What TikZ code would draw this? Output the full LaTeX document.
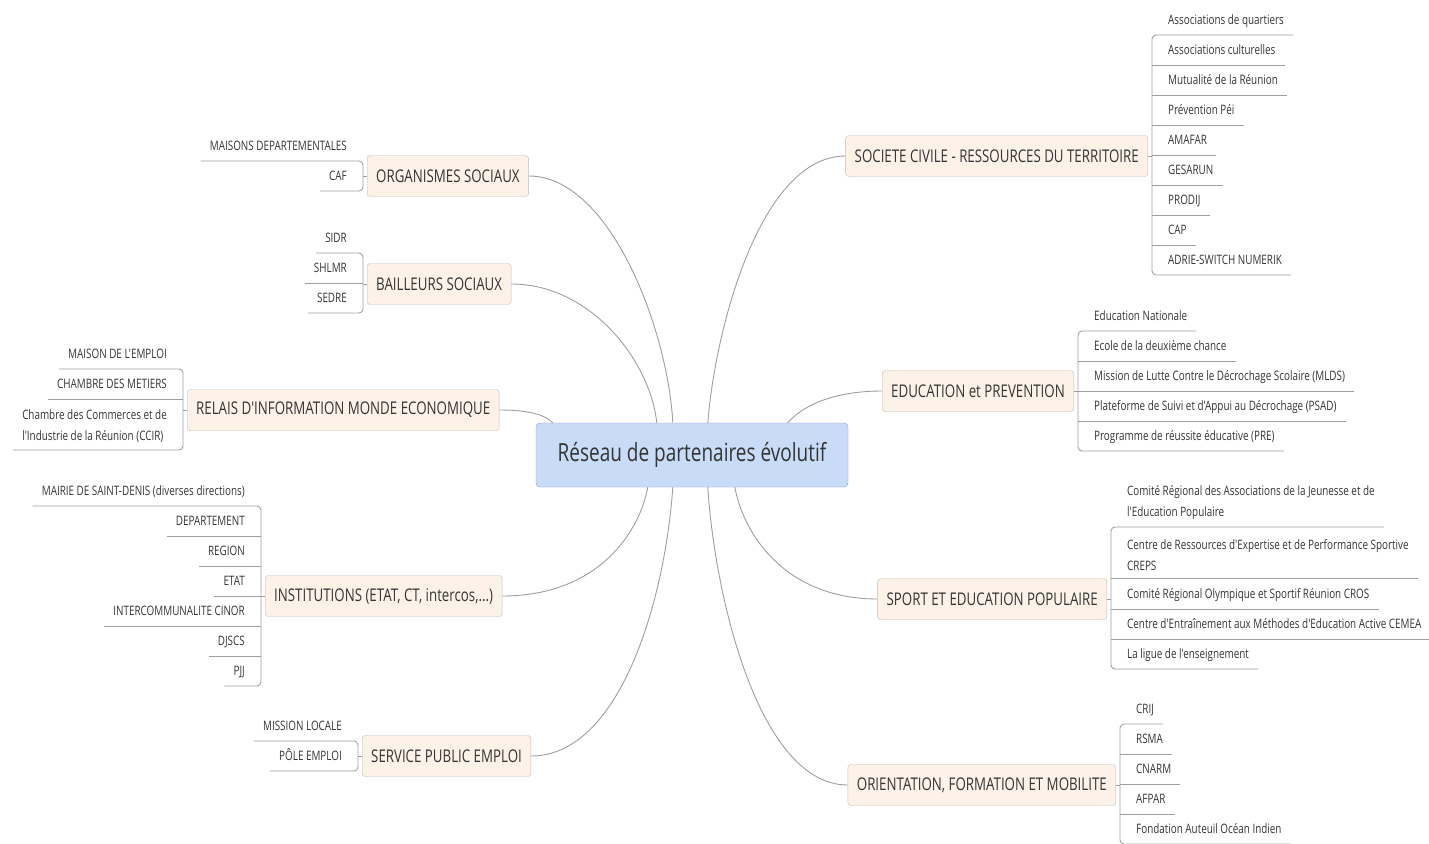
\documentclass[tikz,border=0pt]{standalone}
\usepackage{fontspec}
\setmainfont{Open Sans}[FakeStretch=0.76, Ligatures=TeXOff]
\usepackage{tikz}
\usetikzlibrary{positioning}
\definecolor{hubfill}{RGB}{200,220,248}
\definecolor{hubline}{RGB}{128,158,204}
\definecolor{topicfill}{RGB}{252,242,232}
\definecolor{topicline}{RGB}{196,188,178}
\definecolor{wire}{RGB}{158,158,158}
\definecolor{ink}{RGB}{52,52,52}

\begin{document}
\begin{tikzpicture}[x=1pt,y=-1pt]
\tikzstyle{hub}=[rectangle, rounded corners=4pt, draw=hubline, fill=hubfill, text=ink, minimum width=312pt, minimum height=64pt, font=\fontsize{25}{28}\selectfont]
\tikzstyle{topic}=[rectangle, rounded corners=3pt, draw=topicline, fill=topicfill, text=ink, minimum height=41pt, inner xsep=9pt, font=\fontsize{17.5}{20}\selectfont]
\tikzstyle{leafbase}=[text=ink, inner xsep=9pt, inner ysep=7pt, align=left, font=\fontsize{13}{21}\selectfont]
\tikzstyle{leaf}=[leafbase, text height=9pt, text depth=3pt]
\tikzstyle{link}=[draw=wire, line width=0.9pt]
\tikzstyle{twig}=[draw=wire, line width=0.9pt]
\useasboundingbox (0,0) rectangle (1429,843);
\clip (0,0) rectangle (1429,843);

% centre
\node[hub] (Hub) at (692,455) {Réseau de partenaires évolutif};

% branches, left
\node[topic, anchor=west] (Organismes) at (367,176) {ORGANISMES SOCIAUX};
\node[topic, anchor=west] (Bailleurs) at (367,284) {BAILLEURS SOCIAUX};
\node[topic, anchor=west] (Relais) at (187,410) {RELAIS D'INFORMATION MONDE ECONOMIQUE};
\node[topic, anchor=west] (Institutions) at (265,596) {INSTITUTIONS (ETAT, CT, intercos,...)};
\node[topic, anchor=west] (ServicePublic) at (362,756) {SERVICE PUBLIC EMPLOI};
% branches, right
\node[topic, anchor=east] (SocieteCivile) at (1148,156) {SOCIETE CIVILE - RESSOURCES DU TERRITOIRE};
\node[topic, anchor=east] (Education) at (1074,391) {EDUCATION et PREVENTION};
\node[topic, anchor=east] (Sport) at (1107,599) {SPORT ET EDUCATION POPULAIRE};
\node[topic, anchor=east] (Orientation) at (1116,785) {ORIENTATION, FORMATION ET MOBILITE};

\draw[link] ([xshift=17pt]Hub.north west) .. controls (545,415) and (530,410) .. (Relais.east);
\draw[link] ([xshift=121pt]Hub.north west) .. controls (650,360) and (590,284) .. (Bailleurs.east);
\draw[link] ([xshift=137pt]Hub.north west) .. controls (668,330) and (610,176) .. (Organismes.east);
\draw[link] ([xshift=172pt]Hub.north west) .. controls (715,330) and (760,156) .. (SocieteCivile.west);
\draw[link] ([xshift=252pt]Hub.north west) .. controls (800,408) and (830,391) .. (Education.west);
\draw[link] ([xshift=112pt]Hub.south west) .. controls (640,530) and (600,596) .. (Institutions.east);
\draw[link] ([xshift=137pt]Hub.south west) .. controls (665,600) and (620,756) .. (ServicePublic.east);
\draw[link] ([xshift=172pt]Hub.south west) .. controls (715,600) and (760,785) .. (Orientation.west);
\draw[link] ([xshift=199pt]Hub.south west) .. controls (745,540) and (790,599) .. (Sport.west);

% leaves, left
\coordinate (OrgB) at (363,176);
\foreach \t [count=\i] in {MAISONS DEPARTEMENTALES, CAF}
  \node[leaf, anchor=south east] (Org\i) at (356,131+30*\i) {\t};
\draw[twig] (Organismes.west) -- (OrgB);
\draw[twig, rounded corners=4pt] (Org1.south west) -- (Org1.south west -| OrgB) -- (Org2.south west -| OrgB) -- (Org2.south west);

\coordinate (BailB) at (363,284);
\foreach \t [count=\i] in {SIDR, SHLMR, SEDRE}
  \node[leaf, anchor=south east] (Bail\i) at (356,223+30*\i) {\t};
\draw[twig] (Bailleurs.west) -- (BailB);
\draw[twig] (Bail2.south west) -- (Bail2.south west -| BailB);
\draw[twig, rounded corners=4pt] (Bail1.south west) -- (Bail1.south west -| BailB) -- (Bail3.south west -| BailB) -- (Bail3.south west);

\coordinate (RelaisB) at (183,410);
\node[leaf, anchor=south east] (Relais1) at (176,369) {MAISON DE L'EMPLOI};
\node[leaf, anchor=south east] (Relais2) at (176,399) {CHAMBRE DES METIERS};
\node[leafbase, anchor=south east] (Relais3) at (176,450) {Chambre des Commerces et de\\l'Industrie de la Réunion (CCIR)};
\draw[twig] (Relais.west) -- (RelaisB);
\draw[twig] (Relais2.south west) -- (Relais2.south west -| RelaisB);
\draw[twig, rounded corners=4pt] (Relais1.south west) -- (Relais1.south west -| RelaisB) -- (Relais3.south west -| RelaisB) -- (Relais3.south west);

\coordinate (InstB) at (261,596);
\foreach \t [count=\i] in {MAIRIE DE SAINT-DENIS (diverses directions), DEPARTEMENT, REGION, ETAT, INTERCOMMUNALITE CINOR, DJSCS, PJJ}
  \node[leaf, anchor=south east] (Inst\i) at (254,476+30*\i) {\t};
\draw[twig] (Institutions.west) -- (InstB);
\foreach \i in {2,...,6}
  \draw[twig] (Inst\i.south west) -- (Inst\i.south west -| InstB);
\draw[twig, rounded corners=4pt] (Inst1.south west) -- (Inst1.south west -| InstB) -- (Inst7.south west -| InstB) -- (Inst7.south west);

\coordinate (SpeB) at (358,756);
\foreach \t [count=\i] in {MISSION LOCALE, PÔLE EMPLOI}
  \node[leaf, anchor=south east] (Spe\i) at (351,711+30*\i) {\t};
\draw[twig] (ServicePublic.west) -- (SpeB);
\draw[twig, rounded corners=4pt] (Spe1.south west) -- (Spe1.south west -| SpeB) -- (Spe2.south west -| SpeB) -- (Spe2.south west);

% leaves, right
\coordinate (SocB) at (1152,156);
\foreach \t [count=\i] in {Associations de quartiers, Associations culturelles, Mutualité de la Réunion, Prévention Péi, AMAFAR, GESARUN, PRODIJ, CAP, ADRIE-SWITCH NUMERIK}
  \node[leaf, anchor=south west] (Soc\i) at (1159,5+30*\i) {\t};
\draw[twig] (SocieteCivile.east) -- (SocB);
\foreach \i in {2,...,8}
  \draw[twig] (Soc\i.south east) -- (Soc\i.south east -| SocB);
\draw[twig, rounded corners=4pt] (Soc1.south east) -- (Soc1.south east -| SocB) -- (Soc9.south east -| SocB) -- (Soc9.south east);

\coordinate (EduB) at (1078,391);
\foreach \t [count=\i] in {Education Nationale, Ecole de la deuxième chance, Mission de Lutte Contre le Décrochage Scolaire (MLDS), Plateforme de Suivi et d'Appui au Décrochage (PSAD), Programme de réussite éducative (PRE)}
  \node[leaf, anchor=south west] (Edu\i) at (1085,301+30*\i) {\t};
\draw[twig] (Education.east) -- (EduB);
\foreach \i in {2,...,4}
  \draw[twig] (Edu\i.south east) -- (Edu\i.south east -| EduB);
\draw[twig, rounded corners=4pt] (Edu1.south east) -- (Edu1.south east -| EduB) -- (Edu5.south east -| EduB) -- (Edu5.south east);

\coordinate (SportB) at (1111,599);
\node[leafbase, anchor=south west] (Sport1) at (1118,527) {Comité Régional des Associations de la Jeunesse et de\\l'Education Populaire};
\node[leafbase, anchor=south west] (Sport2) at (1118,578) {Centre de Ressources d'Expertise et de Performance Sportive\\CREPS};
\node[leaf, anchor=south west] (Sport3) at (1118,609) {Comité Régional Olympique et Sportif Réunion CROS};
\node[leaf, anchor=south west] (Sport4) at (1118,639) {Centre d'Entraînement aux Méthodes d'Education Active CEMEA};
\node[leaf, anchor=south west] (Sport5) at (1118,669) {La ligue de l'enseignement};
\draw[twig] (Sport.east) -- (SportB);
\foreach \i in {2,...,4}
  \draw[twig] (Sport\i.south east) -- (Sport\i.south east -| SportB);
\draw[twig, rounded corners=4pt] (Sport1.south east) -- (Sport1.south east -| SportB) -- (Sport5.south east -| SportB) -- (Sport5.south east);

\coordinate (OriB) at (1120,785);
\foreach \t [count=\i] in {CRIJ, RSMA, CNARM, AFPAR, Fondation Auteuil Océan Indien}
  \node[leaf, anchor=south west] (Ori\i) at (1127,694+30*\i) {\t};
\draw[twig] (Orientation.east) -- (OriB);
\foreach \i in {2,...,4}
  \draw[twig] (Ori\i.south east) -- (Ori\i.south east -| OriB);
\draw[twig, rounded corners=4pt] (Ori1.south east) -- (Ori1.south east -| OriB) -- (Ori5.south east -| OriB) -- (Ori5.south east);
\end{tikzpicture}
\end{document}
